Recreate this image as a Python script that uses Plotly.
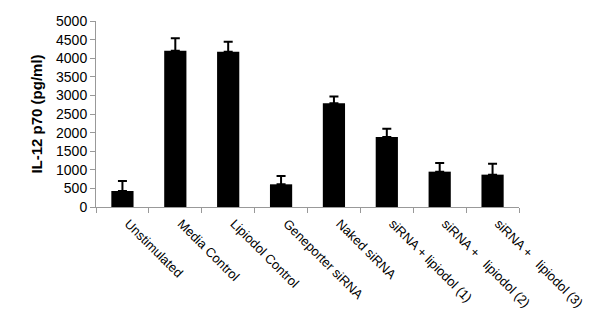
import plotly.graph_objects as go

categories = ["Unstimulated", "Media Control", "Lipiodol Control", "Geneporter siRNA",
              "Naked siRNA", "siRNA + lipiodol (1)", "siRNA +   lipiodol (2)", "siRNA +   lipiodol (3)"]
values = [430, 4200, 4175, 610, 2790, 1880, 950, 870]
errors = [270, 335, 270, 225, 180, 225, 235, 290]
y_ticks = [0, 500, 1000, 1500, 2000, 2500, 3000, 3500, 4000, 4500, 5000]

fig = go.Figure(go.Bar(
    x=categories, y=values, width=0.42,
    marker=dict(color="black", line=dict(width=0)),
    error_y=dict(type="data", array=errors, arrayminus=[0] * len(errors),
                 symmetric=False, color="black", thickness=2, width=4.5),
))

font = "Liberation Sans, Arial, sans-serif"
# page body has an 8px default margin, so the figure is sized to fit 600x326 after it
fig.update_layout(
    width=592, height=318,
    margin=dict(l=88, r=81, t=13, b=119),
    paper_bgcolor="white", plot_bgcolor="white",
    showlegend=False,
    font=dict(family=font, color="black"),
    xaxis=dict(
        type="category", tickangle=45, tickfont=dict(size=13, family=font),
        showline=True, linecolor="#999999", linewidth=1,
        ticks="outside", tickson="boundaries", ticklen=5, tickcolor="#999999",
        ticklabelshift=6, ticklabelstandoff=3,
        showgrid=False, range=[-0.5, 7.5], automargin=False,
    ),
    yaxis=dict(
        range=[0, 5000], tickvals=y_ticks, tickfont=dict(size=14, family=font),
        showline=True, linecolor="#999999", linewidth=1,
        ticks="outside", ticklen=5, tickcolor="#999999",
        showgrid=False, zeroline=False, automargin=False,
        title=dict(text="<b>IL-12 p70 (pg/ml)</b>", font=dict(size=15, family=font), standoff=9),
    ),
)

fig.write_html("out.html")
